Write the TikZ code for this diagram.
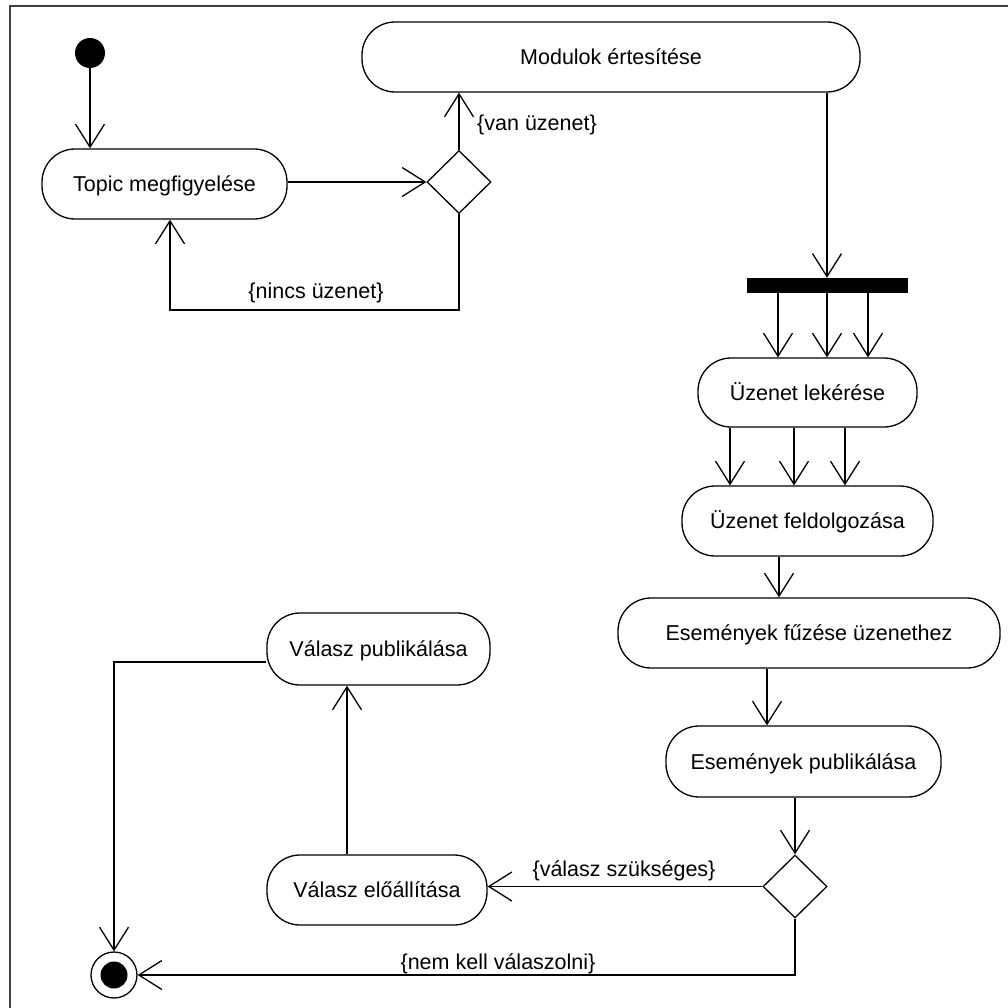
\documentclass[tikz,border=0pt]{standalone}
\usepackage{fontspec}
\setmainfont{Liberation Sans}
\usetikzlibrary{arrows.meta,shapes.geometric}
\begin{document}
\begin{tikzpicture}[x=1pt,y=-1pt,
  every node/.style={font=\fontsize{21.5}{25}\selectfont, text height=15.5pt, text depth=0pt},
  action/.style={draw, line width=1.3pt, rounded corners=33pt, minimum height=70pt, inner sep=0pt, fill=white},
  choice/.style={draw, diamond, line width=1.3pt, minimum width=64pt, minimum height=63pt, inner sep=0pt, fill=white},
  startdot/.style={circle, fill=black, minimum size=30pt, inner sep=0pt},
  endring/.style={circle, draw, line width=1.3pt, minimum size=46pt, inner sep=0pt},
  endcore/.style={circle, fill=black, minimum size=27pt, inner sep=0pt},
  forkbar/.style={fill=black, minimum width=161pt, minimum height=15pt, inner sep=0pt, text height=0pt},
  flow/.style={line width=1.3pt, -{Straight Barb[length=23pt,width=29pt,line width=1.3pt]}},
  guard/.style={inner sep=0pt},
]
\useasboundingbox (0,0) rectangle (1008,1008);
\fill[white] (0,0) rectangle (1008,1008);
% frame of the activity
\draw[line width=1.3pt, black!75] (10,1008) -- (10,6) -- (1008,6);

% nodes
\node[startdot] (start) at (90,53) {};
\node[action, minimum width=245pt] (topic) at (164.5,184) {Topic megfigyelése};
\node[choice] (d1) at (459,182) {};
\node[action, minimum width=498pt] (mod) at (611,57) {Modulok értesítése};
\node[forkbar] (bar) at (827,285.5) {};
\node[action, minimum width=219pt, minimum height=69pt] (lek) at (807.5,392.5) {Üzenet lekérése};
\node[action, minimum width=251pt] (feld) at (807.5,521) {Üzenet feldolgozása};
\node[action, minimum width=382pt] (fuz) at (809,633) {Események fűzése üzenethez};
\node[action, minimum width=275pt, minimum height=71pt] (epub) at (803.5,761.5) {Események publikálása};
\node[choice] (d2) at (795,886.5) {};
\node[action, minimum width=220pt] (vel) at (377,890) {Válasz előállítása};
\node[action, minimum width=223pt, minimum height=72pt] (vpub) at (378.5,649) {Válasz publikálása};
\node[endring] (end) at (114,975) {};
\node[endcore] (endc) at (end.center) {};

\coordinate (nl) at (170,310);

% flows
\draw[flow] (start.south) -- (start.south |- topic.north);
\draw[flow] (topic.east |- d1.west) -- (d1.west);
\draw[flow] (d1.north) -- (d1.north |- mod.south);
\draw[flow] (d1.south) |- (nl) -- (nl |- topic.south);
\draw[flow] (bar.north |- mod.south) -- (bar.north);
\foreach \x in {778,827,868}
  \draw[flow] (\x,0 |- bar.south) -- (\x,0 |- lek.north);
\foreach \x in {730,794,845}
  \draw[flow] (\x,0 |- lek.south) -- (\x,0 |- feld.north);
\draw[flow] (779,0 |- feld.south) -- (779,0 |- fuz.north);
\draw[flow] (767,0 |- fuz.south) -- (767,0 |- epub.north);
\draw[flow] (d2.north |- epub.south) -- (d2.north);
\draw[flow] (d2.west) -- (vel.east |- d2.west);
\draw[flow] (d2.south) |- (end.east);
\draw[flow] (347,0 |- vel.north) -- (347,0 |- vpub.south);
\draw[flow] ([yshift=-13pt]vpub.west) -| (end.north);

% guards
\node[guard, anchor=west] (gvan) at (477,123) {\{van üzenet\}};
\node[guard] (gnincs) at (316,291) {\{nincs üzenet\}};
\node[guard] (gkell) at (624,869) {\{válasz szükséges\}};
\node[guard] (gnem) at (498,962) {\{nem kell válaszolni\}};
\end{tikzpicture}
\end{document}
